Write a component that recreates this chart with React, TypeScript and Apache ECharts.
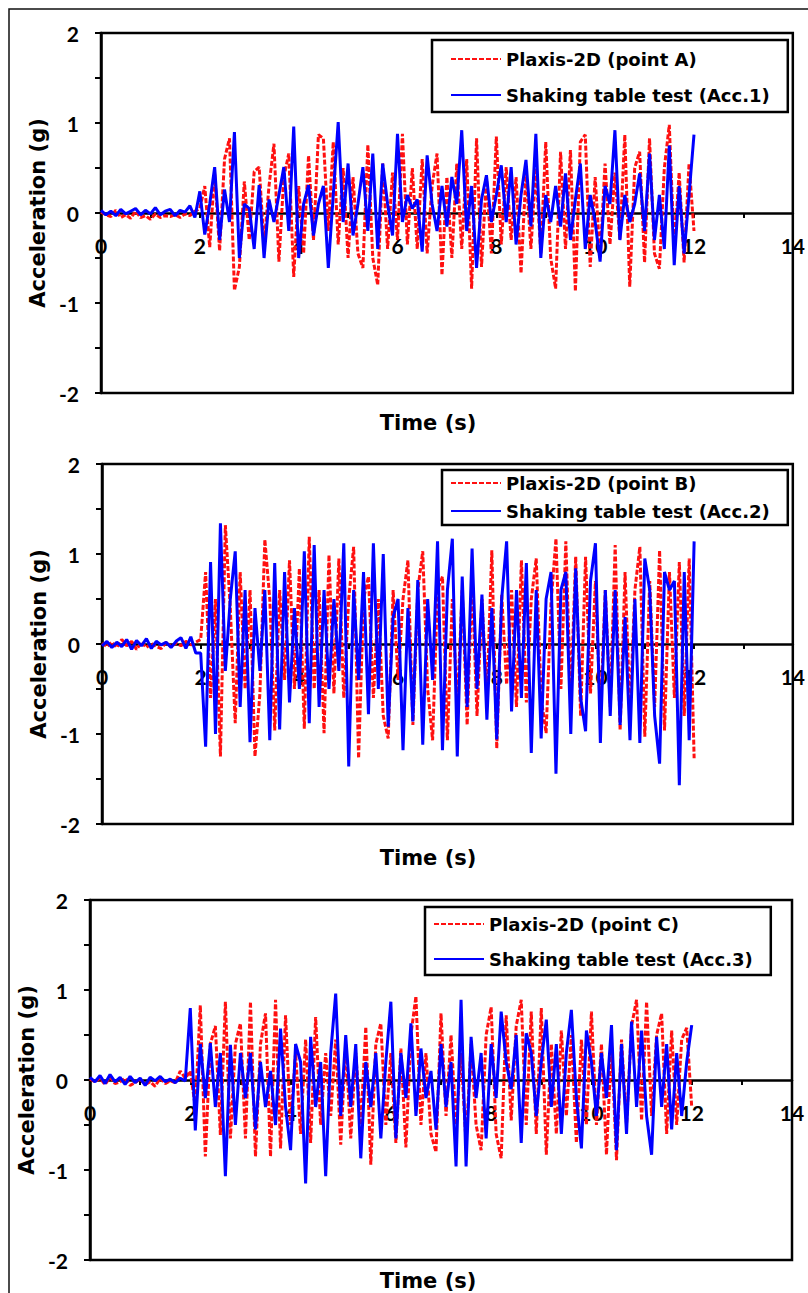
import React, { useEffect, useRef } from "react";
import * as echarts from "echarts";

// sampling step of the digitised records (s)
const DT = 0.1;

// ---------- Panel A ----------
const plaxisAQuiet = [0.01, -0.02, -0.04, 0.03, -0.05, -0.02, -0.06, 0.02, -0.05, -0.03, -0.07, -0.01, -0.05, -0.03, -0.04, -0.02, -0.05, -0.01, -0.03, 0.02];
const plaxisAActive = [
  0.05, 0.3, -0.38, 0.45, -0.42, 0.6, 0.83, -0.86, -0.6, 0.35,
  -0.3, 0.46, 0.51, -0.35, 0.3, 0.77, -0.54, 0.4, 0.66, -0.71,
  0.3, -0.45, 0.64, -0.3, 0.87, 0.83, -0.2, 0.79, -0.35, 0.5,
  -0.5, 0.4, -0.45, -0.61, 0.76, -0.5, -0.8, 0.55, -0.4, 0.45,
  -0.3, 0.88, -0.35, 0.5, -0.4, 0.6, -0.45, 0.3, 0.66, -0.69,
  0.4, -0.5, 0.55, -0.4, 0.6, -0.84, 0.83, -0.6, 0.4, -0.45,
  0.85, -0.35, 0.51, -0.3, 0.4, -0.67, 0.45, -0.4, 0.5, -0.45,
  0.79, -0.5, -0.84, 0.68, -0.4, 0.7, -0.87, 0.79, 0.87, -0.6,
  0.4, -0.5, 0.55, -0.35, 0.45, -0.3, 0.87, -0.82, 0.5, 0.68,
  -0.55, 0.83, -0.45, -0.62, 0.5, 0.98, -0.4, 0.45, -0.55, 0.55,
  -0.2,
];
const tableAQuiet = [0.03, -0.02, 0.02, -0.03, 0.04, -0.01, 0.02, 0.05, -0.02, 0.03, -0.01, 0.06, -0.02, 0.02, 0.04, -0.03, 0.03, 0.01, 0.08, -0.05];
const tableAActive = [
  0.24, -0.24, 0.1, 0.51, -0.3, 0.26, -0.1, 0.9, -0.5, 0.1,
  0.05, -0.4, 0.31, -0.5, 0.15, -0.1, 0.2, 0.51, -0.2, 0.96,
  -0.5, 0.1, 0.31, -0.25, 0.1, 0.3, -0.61, 0.2, 1.01, -0.1,
  0.55, -0.25, 0.1, 0.51, -0.2, 0.66, -0.4, 0.55, 0.1, -0.25,
  0.88, -0.1, 0.2, 0.05, 0.15, -0.43, 0.64, 0.1, -0.2, 0.3,
  -0.15, 0.4, 0.1, 0.92, -0.2, 0.3, -0.61, 0.15, 0.42, -0.1,
  0.2, 0.53, -0.1, 0.51, -0.35, 0.2, 0.59, -0.15, 0.88, -0.5,
  0.2, -0.1, 0.3, -0.15, 0.44, -0.3, 0.15, 0.55, -0.4, 0.2,
  -0.1, -0.54, 0.3, 0.1, 0.92, -0.3, 0.2, -0.1, 0.1, 0.44,
  -0.2, 0.66, -0.3, 0.2, -0.4, 0.75, -0.58, 0.3, -0.45, 0.2,
  0.87,
];

// ---------- Panel B ----------
const plaxisBQuiet = [0.01, -0.03, 0.02, -0.04, 0.05, -0.02, 0.03, -0.06, 0.02, -0.04, 0.01, -0.03, -0.05, 0.02, -0.03, 0.01, -0.02, 0.03, -0.01, 0.02];
const plaxisBActive = [
  0.05, 0.8, -0.6, 0.5, -1.25, 1.32, 0.4, -0.88, 0.8, -0.5,
  0.6, -1.25, -0.55, 1.16, 0.5, -0.96, 0.6, -0.4, 0.93, -0.5,
  0.84, -0.94, 1.19, -0.5, 0.6, -0.99, 0.99, -0.55, 0.95, -0.6,
  0.5, 1.08, -1.27, 0.5, 0.75, -0.6, 0.5, -0.8, -1.05, 0.6,
  -0.4, 0.5, 0.93, -0.9, 0.6, 1.03, -0.5, -1.07, 0.6, 0.75,
  -1.07, 0.5, -0.7, 0.6, -0.9, 0.7, -0.8, 0.5, -0.6, 1.04,
  -1.16, 0.55, -0.45, 0.6, -0.7, 0.93, -0.65, 0.5, 0.95, -0.6,
  -0.99, 0.45, 1.17, -0.5, 1.14, -0.6, 0.97, -0.8, 0.97, -0.55,
  0.7, -0.8, 0.6, -0.7, 1.1, -0.96, 0.8, -0.75, 0.6, 1.08,
  -1.03, 0.7, -0.7, 1.04, -0.96, 0.8, -0.6, 0.91, -0.8, 0.95,
  -1.27,
];
const tableBQuiet = [-0.02, 0.03, -0.04, 0.02, -0.03, 0.05, -0.06, 0.04, -0.02, 0.06, -0.05, 0.03, -0.01, 0.02, -0.04, 0.03, 0.07, -0.05, 0.08, -0.1];
const tableBActive = [
  -0.1, -1.14, 0.91, -1.0, 1.34, -0.3, 0.5, 1.03, -0.7, 0.6,
  -1.09, 0.4, -0.3, 0.6, -1.07, 0.9, -0.95, 0.8, -0.65, 0.4,
  -0.5, 1.03, -0.88, 1.1, -0.7, 0.6, -0.5, 0.5, -0.3, 1.12,
  -1.36, 0.6, -0.4, 0.8, -0.78, 1.12, -0.5, 1.0, -0.92, 0.3,
  0.5, -1.18, 0.4, -0.86, 0.71, -1.12, 0.5, -0.4, 1.14, -1.18,
  0.6, 1.17, -1.25, 0.75, -0.7, 1.06, -0.5, 0.55, -0.84, 0.4,
  -1.06, 0.5, 1.14, -0.75, 0.6, -0.6, 0.9, -1.21, 0.6, -1.05,
  0.5, 0.8, -1.44, 0.6, 0.8, -1.0, 0.84, -0.6, -0.97, 0.7,
  1.12, -1.1, 0.6, -0.8, 0.6, -0.9, 0.3, -1.07, 0.5, -1.1,
  0.95, 0.6, -0.8, -1.33, 0.8, 0.6, 0.7, -1.57, 0.8, -1.07,
  1.14,
];

// ---------- Panel C ----------
const plaxisCQuiet = [0.01, -0.02, 0.02, -0.05, 0.03, -0.04, -0.02, 0.02, -0.06, -0.03, 0.01, -0.05, -0.02, -0.07, 0.02, -0.04, -0.01, -0.03, 0.1, 0.02];
const plaxisCActive = [
  0.1, -0.3, 0.83, -0.85, 0.4, 0.6, -0.61, 0.87, -0.65, 0.4,
  0.63, -0.65, 0.87, -0.85, 0.4, 0.74, -0.85, 0.89, -0.76, 0.72,
  -0.5, 0.3, -0.6, 0.45, -0.7, 0.7, -0.5, 0.3, -0.4, 0.45,
  -0.72, 0.4, -0.65, 0.3, -0.5, 0.59, -0.94, 0.4, 0.63, -0.5,
  0.3, -0.7, 0.35, -0.75, 0.5, 0.93, -0.5, 0.3, -0.6, -0.8,
  0.74, -0.4, 0.5, -0.5, 0.3, -0.7, 0.4, -0.5, -0.78, 0.5,
  0.81, -0.6, -0.87, 0.72, -0.45, 0.6, 0.89, -0.5, 0.76, -0.6,
  0.8, -0.83, 0.4, -0.6, 0.55, -0.4, 0.5, -0.7, 0.45, -0.5,
  0.76, -0.5, 0.4, -0.83, 0.4, -0.89, 0.45, -0.5, 0.6, 0.89,
  -0.45, 0.87, -0.4, 0.5, 0.74, -0.6, 0.55, -0.5, 0.45, 0.58,
  -0.3,
];
const tableCQuiet = [0.03, -0.02, 0.05, -0.04, 0.06, -0.02, 0.03, -0.05, 0.04, -0.03, 0.02, -0.06, 0.03, -0.01, 0.04, -0.02, 0.01, -0.03, 0.02, -0.01];
const tableCActive = [
  0.8, -0.56, 0.4, -0.2, 0.41, -0.3, 0.3, -1.07, 0.39, -0.5,
  0.3, -0.2, 0.3, -0.55, 0.2, -0.3, 0.1, -0.5, 0.57, -0.3,
  -0.78, 0.4, 0.2, -1.15, 0.48, -0.3, 0.2, -1.07, 0.3, 0.96,
  -0.4, 0.5, -0.3, 0.4, -0.87, 0.2, -0.3, 0.3, -0.65, 0.2,
  0.87, -0.65, 0.3, -0.2, 0.63, -0.4, 0.35, -0.2, 0.1, -0.55,
  0.4, -0.3, 0.2, -0.96, 0.89, -0.96, 0.48, -0.2, 0.3, -0.65,
  0.4, -0.2, 0.76, 0.2, -0.1, 0.5, -0.7, 0.52, 0.3, -0.4,
  0.2, 0.67, -0.3, 0.4, -0.6, 0.3, 0.78, -0.2, -0.76, 0.55,
  0.2, -0.4, 0.3, -0.2, 0.61, -0.78, 0.4, -0.6, 0.65, -0.3,
  0.55, -0.4, -0.83, 0.48, -0.3, 0.4, -0.55, 0.3, -0.4, 0.2,
  0.61,
];

const X_MIN = 0, X_MAX = 14, X_STEP = 2;
const Y_MIN = -2, Y_MAX = 2, Y_STEP = 1;

const panels = [
  {
    names: ["Plaxis-2D (point A)", "Shaking table test (Acc.1)"],
    plaxis: [...plaxisAQuiet, ...plaxisAActive],
    table: [...tableAQuiet, ...tableAActive],
  },
  {
    names: ["Plaxis-2D (point B)", "Shaking table test (Acc.2)"],
    plaxis: [...plaxisBQuiet, ...plaxisBActive],
    table: [...tableBQuiet, ...tableBActive],
  },
  {
    names: ["Plaxis-2D (point C)", "Shaking table test (Acc.3)"],
    plaxis: [...plaxisCQuiet, ...plaxisCActive],
    table: [...tableCQuiet, ...tableCActive],
  },
];

const TITLE_FONT = "DejaVu Sans";
const TICK_FONT = "Lato";

// layout
const grids = [
  { left: 101, top: 33, width: 696, height: 360 },
  { left: 102, top: 464, width: 694, height: 360 },
  { left: 90, top: 900, width: 702, height: 360 },
];
const legendPos = [
  { left: 432, top: 40, padding: [10, 18, 8, 18], itemGap: 18 },
  { left: 442, top: 470, padding: [4, 18, 5, 8], itemGap: 10 },
  { left: 425, top: 907, padding: [8, 18, 7, 8], itemGap: 17 },
];
const timeTitleY = [423, 858, 1281];

export default function App() {
  const ref = useRef<HTMLDivElement>(null);

  useEffect(() => {
    if (!ref.current) return;
    const chart = echarts.init(ref.current, undefined, { renderer: "svg" });

    const toPairs = (vals: number[]) => vals.map((v, i) => [+(i * DT).toFixed(2), v]);

    const xAxis: any[] = [];
    const yAxis: any[] = [];
    const series: any[] = [];
    const legend: any[] = [];
    const grid: any[] = [];

    panels.forEach((p, k) => {
      grid.push({
        ...grids[k],
        show: true,
        borderColor: "#000",
        borderWidth: 2.5,
        backgroundColor: "transparent",
        containLabel: false,
      });
      // the time axis sits on the zero line of the acceleration axis
      xAxis.push({
        gridIndex: k,
        type: "value",
        min: X_MIN,
        max: X_MAX,
        interval: X_STEP,
        position: "bottom",
        offset: -grids[k].height / 2,
        axisLine: { onZero: false, lineStyle: { color: "#000", width: 2.5 } },
        axisTick: { show: true, length: 5, lineStyle: { color: "#000", width: 2 } },
        minorTick: { show: true, splitNumber: 2, length: 5, lineStyle: { color: "#000", width: 2 } },
        axisLabel: {
          color: "#000",
          fontFamily: TICK_FONT,
          fontWeight: "bold",
          fontSize: 21,
          margin: 22,
        },
        splitLine: { show: false },
      });
      yAxis.push({
        gridIndex: k,
        type: "value",
        min: Y_MIN,
        max: Y_MAX,
        interval: Y_STEP,
        axisLine: { show: true, onZero: false, lineStyle: { color: "#000", width: 2.5 } },
        axisTick: { show: true, length: 6, lineStyle: { color: "#000", width: 2 } },
        minorTick: { show: true, splitNumber: 2, length: 6, lineStyle: { color: "#000", width: 2 } },
        axisLabel: {
          color: "#000",
          fontFamily: TICK_FONT,
          fontWeight: "bold",
          fontSize: 21,
          margin: 22,
        },
        splitLine: { show: false },
        name: "Acceleration (g)",
        nameLocation: "middle",
        nameGap: 52,
        nameTextStyle: {
          color: "#000",
          fontFamily: TITLE_FONT,
          fontWeight: "bold",
          fontSize: 21,
        },
      });
      series.push({
        type: "line",
        name: p.names[0],
        xAxisIndex: k,
        yAxisIndex: k,
        data: toPairs(p.plaxis),
        showSymbol: false,
        symbol: "none",
        lineStyle: { color: "#ff1010", width: 3, type: [5, 2] },
        itemStyle: { color: "#ff1010" },
        z: 2,
      });
      series.push({
        type: "line",
        name: p.names[1],
        xAxisIndex: k,
        yAxisIndex: k,
        data: toPairs(p.table),
        showSymbol: false,
        symbol: "none",
        lineStyle: { color: "#0000ff", width: 3 },
        itemStyle: { color: "#0000ff" },
        z: 3,
      });
      legend.push({
        data: p.names,
        orient: "vertical",
        left: legendPos[k].left,
        top: legendPos[k].top,
        padding: legendPos[k].padding,
        itemGap: legendPos[k].itemGap,
        itemWidth: 50,
        itemHeight: 14,
        borderColor: "#000",
        borderWidth: 2.5,
        backgroundColor: "#fff",
        selectedMode: false,
        itemStyle: { opacity: 0 },
        textStyle: {
          color: "#000",
          fontFamily: TITLE_FONT,
          fontWeight: "bold",
          fontSize: 18,
        },
      });
    });

    const graphic: any[] = [
      {
        type: "rect",
        silent: true,
        shape: { x: 9, y: 9, width: 840, height: 1330 },
        style: { fill: "none", stroke: "#111", lineWidth: 1.5 },
      },
      ...timeTitleY.map((y) => ({
        type: "text",
        silent: true,
        x: 428,
        y,
        style: {
          text: "Time (s)",
          fill: "#000",
          font: `bold 21px "${TITLE_FONT}"`,
          textAlign: "center",
          textVerticalAlign: "middle",
        },
      })),
    ];

    chart.setOption({
      animation: false,
      backgroundColor: "#fff",
      grid,
      xAxis,
      yAxis,
      series,
      legend,
      graphic,
    });

    return () => chart.dispose();
  }, []);

  return (
    <div
      ref={ref}
      style={{ position: "absolute", left: 0, top: 0, width: 808, height: 1293 }}
    />
  );
}
